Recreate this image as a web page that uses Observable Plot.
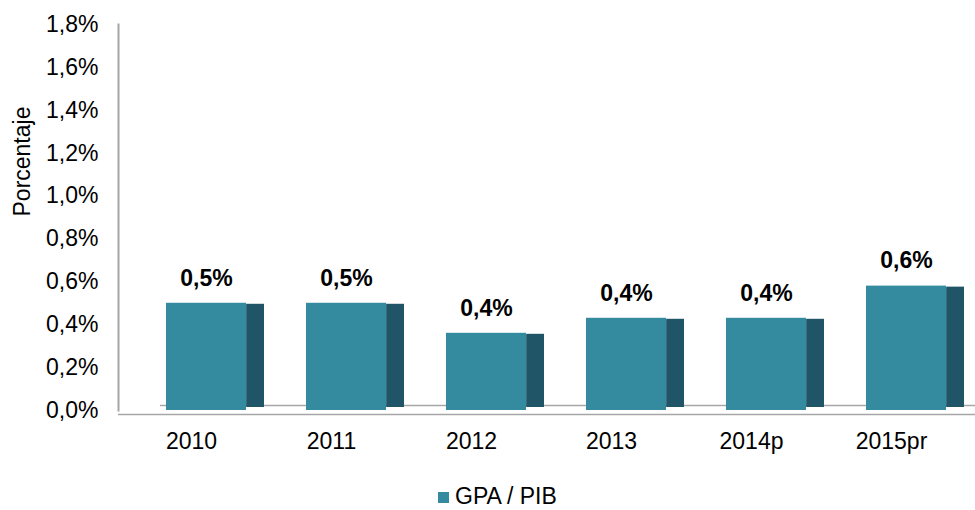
<!DOCTYPE html>
<html>
<head>
<meta charset="utf-8">
<script src="https://cdn.jsdelivr.net/npm/d3@7"></script>
<script src="https://cdn.jsdelivr.net/npm/@observablehq/plot@0.6"></script>
<style>
  body { margin: 0; background: #fff; font-family: "Liberation Sans", Arial, sans-serif; }
  #wrap { position: relative; width: 975px; height: 510px; overflow: hidden; }
  #legend { position: absolute; left: 438px; top: 484px; font-size: 23px; line-height: 25px; color: #000; white-space: nowrap; }
  #legend .sw { display: inline-block; width: 11px; height: 11px; background: #348ba0; margin-right: 6px; vertical-align: 1px; }
</style>
</head>
<body>
<div id="wrap">
  <div id="chart"></div>
  <div id="legend"><span class="sw"></span>GPA / PIB</div>
</div>
<script>
const years = ["2010", "2011", "2012", "2013", "2014p", "2015pr"];
const values = [0.50, 0.50, 0.36, 0.43, 0.43, 0.58];
const valueLabels = ["0,5%", "0,5%", "0,4%", "0,4%", "0,4%", "0,6%"];
const yTicks = [0, 0.2, 0.4, 0.6, 0.8, 1.0, 1.2, 1.4, 1.6, 1.8];
const seriesName = "GPA / PIB";
const yTitle = "Porcentaje";

const data = years.map((y, i) => ({year: y, value: values[i], label: valueLabels[i]}));

const front = "#348ba0";
const side = "#1f5566";
const grid = "#a6a6a6";
const bw = 843.6 / 6 * 0.57; // band width from range and padding
const depth = 18;

const chart = Plot.plot({
  width: 975,
  height: 490,
  marginTop: 24,
  marginBottom: 80,
  marginLeft: 118,
  marginRight: 0,
  style: {fontFamily: "'Liberation Sans', Arial, sans-serif", fontSize: "23px", color: "#000", background: "#fff"},
  x: {domain: years, range: [133.7, 977.3], paddingInner: 0.43, paddingOuter: 0.215},
  y: {domain: [0, 1.8], ticks: yTicks},
  marks: [
    Plot.ruleY([0], {stroke: grid, strokeWidth: 1.5, dy: -5, insetLeft: 42}),
    Plot.ruleY([0], {stroke: grid, strokeWidth: 1.5, dy: 4}),
    Plot.frame({anchor: "left", stroke: grid, strokeWidth: 2}),
    Plot.barY(data, {x: "year", y: "value", fill: side, dx: depth, insetLeft: bw - depth, insetTop: 1, insetBottom: 3}),
    Plot.barY(data, {x: "year", y: "value", fill: front}),
    Plot.text(data, {x: "year", y: "value", text: "label", dy: -25, fontWeight: "bold", fontSize: 23, fill: "#000"}),
    Plot.axisY({ticks: yTicks, tickSize: 0, tickPadding: 20, label: null, fontSize: 23,
      tickFormat: d => d.toFixed(1).replace(".", ",") + "%"}),
    Plot.axisX({tickSize: 0, tickPadding: 22, label: null, dx: -15, fontSize: 23}),
    Plot.text([yTitle], {frameAnchor: "left", rotate: -90, dx: -96, dy: -1, fontSize: 23, fill: "#000"})
  ]
});
document.getElementById("chart").appendChild(chart);
</script>
</body>
</html>
